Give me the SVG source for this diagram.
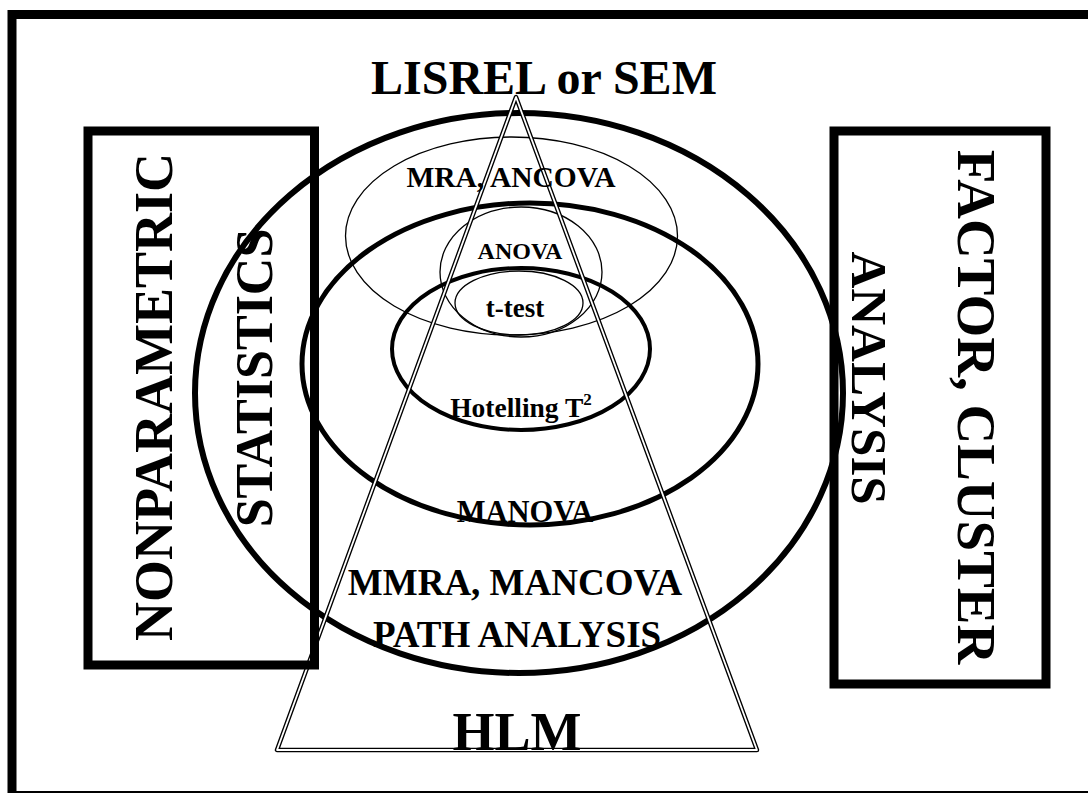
<svg xmlns="http://www.w3.org/2000/svg" width="1088" height="793" viewBox="0 0 1088 793">
<style>
.t{font-family:"Liberation Serif","Times New Roman",serif;font-weight:bold;fill:#000;text-anchor:middle}
.thick{fill:none;stroke:#000}
.thin{fill:none;stroke:#000;stroke-width:1.3}
</style>
<rect width="1088" height="793" fill="#fff"/>
<g id="frame"><rect x="12" y="14.5" width="1100" height="781" fill="none" stroke="#000" stroke-width="9"/></g>
<g id="connectors"></g>
<g id="ellipses">
<ellipse id="outer" class="thick" cx="519" cy="393" rx="324" ry="280" stroke-width="6"/>
<ellipse id="manova" class="thick" cx="530" cy="364" rx="228" ry="161" stroke-width="5"/>
<ellipse id="mra" class="thin" cx="511.5" cy="236" rx="166" ry="99"/>
<ellipse id="anova" class="thin" cx="521" cy="272" rx="81" ry="65"/>
<ellipse id="hotelling" class="thick" cx="521" cy="349" rx="129" ry="81" stroke-width="4"/>
<ellipse id="ttest" class="thin" cx="519" cy="303" rx="64" ry="32"/>
</g>
<g id="triangle">
<polygon points="516,97 277,750 757,750" fill="none" stroke="#000" stroke-width="4.5" stroke-linejoin="round"/>
<polygon points="516,97 277,750 757,750" fill="none" stroke="#fff" stroke-width="1.8" stroke-linejoin="round"/>
</g>
<g id="nonparametric">
<rect x="88" y="131" width="226.5" height="534" fill="none" stroke="#000" stroke-width="9"/>
<text class="t" font-size="54" transform="translate(172,397) rotate(-90)">NONPARAMETRIC</text>
<text class="t" font-size="52" transform="translate(272,378) rotate(-90)">STATISTICS</text>
</g>
<g id="factor">
<rect x="834" y="131" width="212" height="553" fill="none" stroke="#000" stroke-width="9"/>
<text class="t" font-size="55" transform="translate(958,407) rotate(90)">FACTOR, CLUSTER</text>
<text class="t" font-size="51" transform="translate(852,378) rotate(90)">ANALYSIS</text>
</g>
<g id="labels">
<text class="t" font-size="48" x="544" y="94">LISREL or SEM</text>
<text class="t" font-size="29.5" x="511" y="187">MRA, ANCOVA</text>
<text class="t" font-size="24" x="520" y="259">ANOVA</text>
<text class="t" font-size="27" x="515" y="317">t-test</text>
<text class="t" font-size="27.5" x="521" y="417">Hotelling T<tspan font-size="17" dy="-12">2</tspan></text>
<text class="t" font-size="30.5" x="525" y="522">MANOVA</text>
<text class="t" font-size="37" x="515" y="595">MMRA, MANCOVA</text>
<text class="t" font-size="37" x="517" y="647">PATH ANALYSIS</text>
<text class="t" font-size="54" x="517" y="750">HLM</text>
</g>
</svg>
